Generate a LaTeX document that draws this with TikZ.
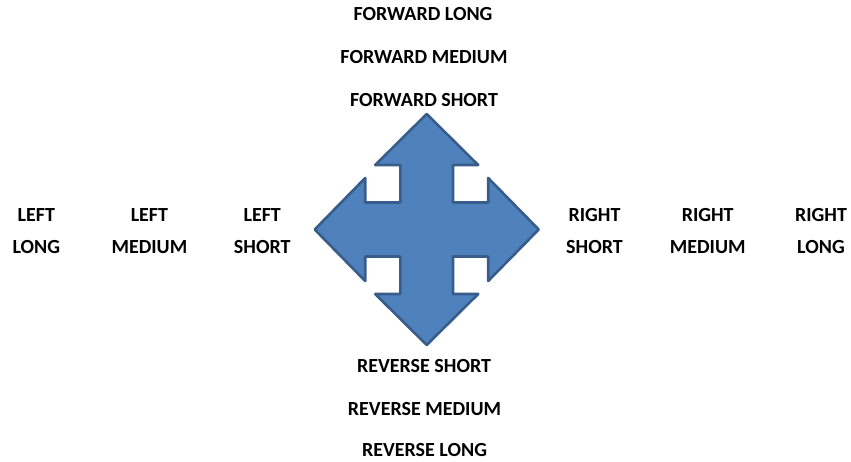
\documentclass[tikz,border=0pt]{standalone}
\usepackage{fontspec}
\setmainfont{Carlito}
\definecolor{arrowfill}{HTML}{4F81BD}
\definecolor{arrowline}{HTML}{385D8A}
\begin{document}
\begin{tikzpicture}[x=1pt,y=-1pt,
  lbl/.style={font=\fontsize{20}{32}\selectfont\bfseries, inner sep=0pt, align=center, text=black}]
\useasboundingbox (0,0) rectangle (851,461);
% four-way arrow
\def\cx{426.7}\def\cy{229.5}
\draw[fill=arrowfill, draw=arrowline, line width=2.6pt, line join=round]
  (\cx,\cy-115.5) -- (\cx+51.5,\cy-64.5) -- (\cx+26.3,\cy-64.5) -- (\cx+26.3,\cy-27)
  -- (\cx+61.5,\cy-27) -- (\cx+61.5,\cy-51.5) -- (\cx+112,\cy) -- (\cx+61.5,\cy+51.5)
  -- (\cx+61.5,\cy+27) -- (\cx+26.3,\cy+27) -- (\cx+26.3,\cy+64.5) -- (\cx+51.5,\cy+64.5)
  -- (\cx,\cy+115.5) -- (\cx-51.5,\cy+64.5) -- (\cx-26.3,\cy+64.5) -- (\cx-26.3,\cy+27)
  -- (\cx-61.5,\cy+27) -- (\cx-61.5,\cy+51.5) -- (\cx-112,\cy) -- (\cx-61.5,\cy-51.5)
  -- (\cx-61.5,\cy-27) -- (\cx-26.3,\cy-27) -- (\cx-26.3,\cy-64.5) -- (\cx-51.5,\cy-64.5)
  -- cycle;
% labels
\node[lbl] (fl) at (423,14.5) {FORWARD LONG};
\node[lbl] (fm) at (424,57.5) {FORWARD MEDIUM};
\node[lbl] (fs) at (424,100.5) {FORWARD SHORT};
\node[lbl] (rs) at (424,366) {REVERSE SHORT};
\node[lbl] (rm) at (424.5,409.5) {REVERSE MEDIUM};
\node[lbl] (rl) at (424.5,450.5) {REVERSE LONG};
\node[lbl] (ll) at (36.3,230.7) {LEFT\\LONG};
\node[lbl] (lm) at (149.4,230.7) {LEFT\\MEDIUM};
\node[lbl] (ls) at (262.2,230.7) {LEFT\\SHORT};
\node[lbl] (ris) at (594.5,230.7) {RIGHT\\SHORT};
\node[lbl] (rim) at (707.7,230.7) {RIGHT\\MEDIUM};
\node[lbl] (ril) at (821,230.7) {RIGHT\\LONG};
\end{tikzpicture}
\end{document}
